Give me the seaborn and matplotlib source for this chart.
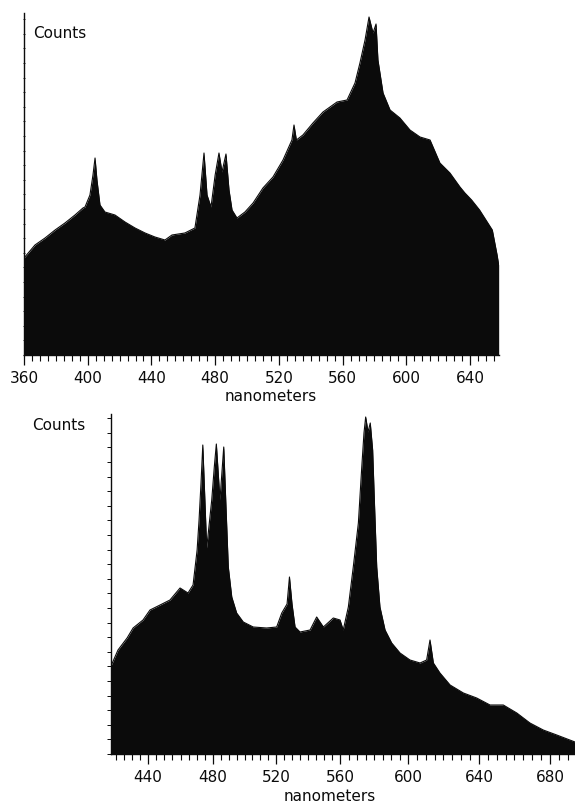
import numpy as np
import matplotlib
matplotlib.use("Agg")
import matplotlib.pyplot as plt
from matplotlib.ticker import MultipleLocator, NullFormatter
import seaborn as sns
import pandas as pd

# ---------------------------------------------------
# DATA
# ---------------------------------------------------

top_nm = [360, 366.9, 373.2, 379.5, 385.7, 392, 397, 398.3, 401.4, 403.3,
          404.6, 405.8, 407.7, 410.8, 417.1, 423.4, 429.7, 436, 442.2, 448.5,
          452.9, 461, 467.3, 470.5, 473, 474.9, 477.4, 480, 482.4, 484.3,
          486.8, 488.7, 490.6, 493.7, 498.7, 503.8, 510, 516.3, 522.6, 528.2,
          529.5, 531, 535.1, 541.4, 547.7, 556.5, 562.8, 567.8, 570.9, 574.1,
          576.6, 579.1, 581, 582.2, 585.4, 589.8, 596, 602.3, 608.6, 614.9,
          621.1, 627.4, 633.7, 636.8, 641, 646, 650, 654, 657, 658]
top_counts = [97, 110, 117, 125, 132, 140, 147, 148, 160, 180,
              197, 175, 150, 143, 140, 133, 127, 122, 118, 115,
              120, 122, 127, 160, 202, 160, 148, 180, 202, 183,
              201, 165, 145, 137, 143, 152, 167, 178, 195, 215,
              230, 215, 220, 232, 243, 253, 255, 272, 292, 315,
              338, 322, 331, 295, 262, 245, 237, 225, 218, 215,
              192, 182, 168, 162, 155, 145, 135, 125, 100, 90]

bot_nm = [417.2, 421.5, 427.1, 430.8, 436.9, 441.2, 447.4, 453.5, 459.7, 464.6,
          467.7, 470.2, 471.4, 472.6, 473.7, 476.1, 479.2, 480.8, 482.1, 484.4,
          486.8, 488.3, 489.7, 491.9, 495.0, 499.2, 505.5, 514.0, 520.4, 523.6,
          526.9, 528.4, 530.0, 531.9, 535.0, 541.3, 545.4, 549.6, 555.8, 560,
          561.9, 564.9, 567.8, 570.8, 572.8, 574.1, 575.1, 576.5, 577.8, 579.2,
          580.2, 581.6, 583.5, 586.5, 590.4, 595.3, 601.1, 606.8, 610.5, 612.4,
          614.3, 618.0, 623.7, 631.2, 638.7, 646.2, 653.7, 661.3, 668.7, 676.2,
          683.8, 694.1]
bot_counts = [88, 104, 116, 126, 134, 144, 149, 154, 166, 161,
              169, 204, 234, 271, 309, 206, 254, 287, 310, 254,
              307, 244, 187, 157, 141, 132, 127, 126, 127, 141,
              150, 177, 150, 127, 122, 124, 137, 127, 136, 134,
              124, 147, 187, 231, 287, 321, 337, 322, 331, 304,
              254, 187, 147, 124, 111, 101, 94, 91, 94, 114,
              91, 81, 69, 61, 56, 49, 49, 41, 31, 24,
              19, 12]

top_ticks = [360, 400, 440, 480, 520, 560, 600, 640]
bot_ticks = [440, 480, 520, 560, 600, 640, 680]

# the lower chart's wavelength scale is not quite linear on the page
scale_nm = [400, 440, 480, 520, 560, 600, 640, 680, 720]
scale_pos = [83, 148, 213, 276, 340, 408, 479, 550, 621]


def fwd(x):
    return np.interp(x, scale_nm, scale_pos)


def inv(p):
    return np.interp(p, scale_pos, scale_nm)


# ---------------------------------------------------
# STYLE
# ---------------------------------------------------

sns.set_style("ticks")
plt.rcParams["font.family"] = ["DejaVu Sans"]

W, H = 575, 804
fig = plt.figure(figsize=(W / 100, H / 100), dpi=100)
ink = "#0b0b0b"


def style_axis(ax, ticks):
    sns.despine(ax=ax)
    for side in ["left", "bottom"]:
        ax.spines[side].set_color(ink)
        ax.spines[side].set_linewidth(1.0)
    ax.set_xticks(ticks)
    ax.xaxis.set_minor_locator(MultipleLocator(5))
    ax.tick_params(axis="x", which="major", bottom=True, length=7, width=0.9,
                   direction="out", labelsize=11, pad=4, colors=ink)
    ax.tick_params(axis="x", which="minor", bottom=True, length=4, width=0.8,
                   direction="out", colors=ink)
    ax.yaxis.set_major_locator(MultipleLocator(14.6))
    ax.yaxis.set_major_formatter(NullFormatter())
    ax.set_xlabel("")
    ax.set_ylabel("")


# ---------------------------------------------------
# TOP SPECTRUM
# ---------------------------------------------------

ax1 = fig.add_axes([24 / W, 1 - 356 / H, 475 / W, 342 / H])
top_df = pd.DataFrame({"nm": top_nm, "counts": top_counts})
sns.lineplot(data=top_df, x="nm", y="counts", ax=ax1, color=ink, linewidth=0.8)
ax1.fill_between(top_df["nm"], top_df["counts"], color=ink, linewidth=0)
ax1.set_xlim(360, 658.2)
ax1.set_ylim(0, 342)
style_axis(ax1, top_ticks)
ax1.tick_params(axis="y", left=True, length=2, width=0.6, direction="inout", colors=ink)

fig.text(33 / W, 1 - 34 / H, "Counts", fontsize=11, va="center", ha="left", color=ink)
fig.text(271 / W, 1 - 397 / H, "nanometers", fontsize=11, va="center", ha="center", color=ink)

# ---------------------------------------------------
# BOTTOM SPECTRUM
# ---------------------------------------------------

ax2 = fig.add_axes([111 / W, 1 - 755 / H, 464 / W, 340 / H])
ax2.set_xscale("function", functions=(fwd, inv))
bot_df = pd.DataFrame({"nm": bot_nm, "counts": bot_counts})
sns.lineplot(data=bot_df, x="nm", y="counts", ax=ax2, color=ink, linewidth=0.8)
ax2.fill_between(bot_df["nm"], bot_df["counts"], color=ink, linewidth=0)
ax2.set_xlim(417.2, 694.1)
ax2.set_ylim(0, 340)
style_axis(ax2, bot_ticks)
ax2.tick_params(axis="y", left=True, length=3, width=0.7, direction="out", colors=ink)

fig.text(32 / W, 1 - 426 / H, "Counts", fontsize=11, va="center", ha="left", color=ink)
fig.text(330 / W, 1 - 797 / H, "nanometers", fontsize=11, va="center", ha="center", color=ink)

fig.savefig("out.png", dpi=100, facecolor="white")
plt.close(fig)
